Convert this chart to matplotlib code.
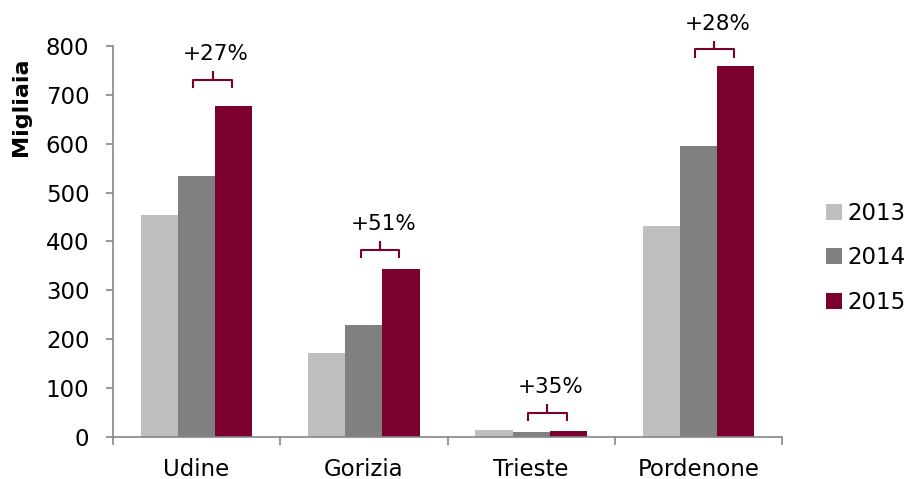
import numpy as np
import matplotlib
matplotlib.use('Agg')
import matplotlib.pyplot as plt

# data (thousands)
provinces = ['Udine', 'Gorizia', 'Trieste', 'Pordenone']
years = ['2013', '2014', '2015']
v2013 = [455, 172, 14, 432]
v2014 = [533, 229, 10, 595]
v2015 = [678, 344, 12, 760]
growth = ['+27%', '+51%', '+35%', '+28%']
brace_y = [716, 368, 35, 778]

colors = ['#BFBFBF', '#808080', '#7B0030']
grey = '#868686'

fig = plt.figure(figsize=(9.09, 4.79), dpi=100)
ax = fig.add_axes([0.1243, 0.0877, 0.736, 0.8163])

x = np.arange(len(provinces))
w = 0.222
for k, vals in enumerate([v2013, v2014, v2015]):
    ax.bar(x + (k - 1) * w, vals, width=w, color=colors[k], label=years[k])

# brace + growth label over the 2014/2015 pair
for i in range(len(provinces)):
    x0, x1 = x[i] - 0.02, x[i] + w - 0.01
    xm = (x0 + x1) / 2
    y0 = brace_y[i]
    yh = y0 + 15
    yt = yh + 15
    ax.plot([x0, x0, xm, xm, xm, x1, x1], [y0, yh, yh, yt, yh, yh, y0],
            color=colors[2], lw=1.5, clip_on=False, solid_joinstyle='round')
    ax.text(xm + 0.02, yt + 37, growth[i], ha='center', va='center',
            fontsize=15.5, clip_on=False)

ax.set_xlim(-0.5, len(provinces) - 0.5)
ax.set_ylim(0, 800)
ax.set_yticks(range(0, 801, 100))
ax.set_xticks(x)
ax.set_xticklabels(provinces)
ax.set_xticks(np.arange(-0.5, len(provinces), 1), minor=True)
ax.tick_params(axis='x', which='major', length=0, pad=15, labelsize=16.5)
ax.tick_params(axis='x', which='minor', length=6, color=grey, width=1.2)
ax.tick_params(axis='y', length=5, color=grey, width=1.2, labelsize=16.5,
               pad=12)

for s in ['top', 'right']:
    ax.spines[s].set_visible(False)
for s in ['left', 'bottom']:
    ax.spines[s].set_color(grey)
    ax.spines[s].set_linewidth(1.2)

ax.set_ylabel('Migliaia', fontsize=16, fontweight='bold')
ax.yaxis.set_label_coords(-0.122, 0.845)

ax.legend(loc='center left', bbox_to_anchor=(1.035, 0.458), frameon=False,
          fontsize=16.5, handlelength=0.7, handleheight=0.7,
          handletextpad=0.25, labelspacing=0.95)

fig.savefig('out.png', dpi=100)
